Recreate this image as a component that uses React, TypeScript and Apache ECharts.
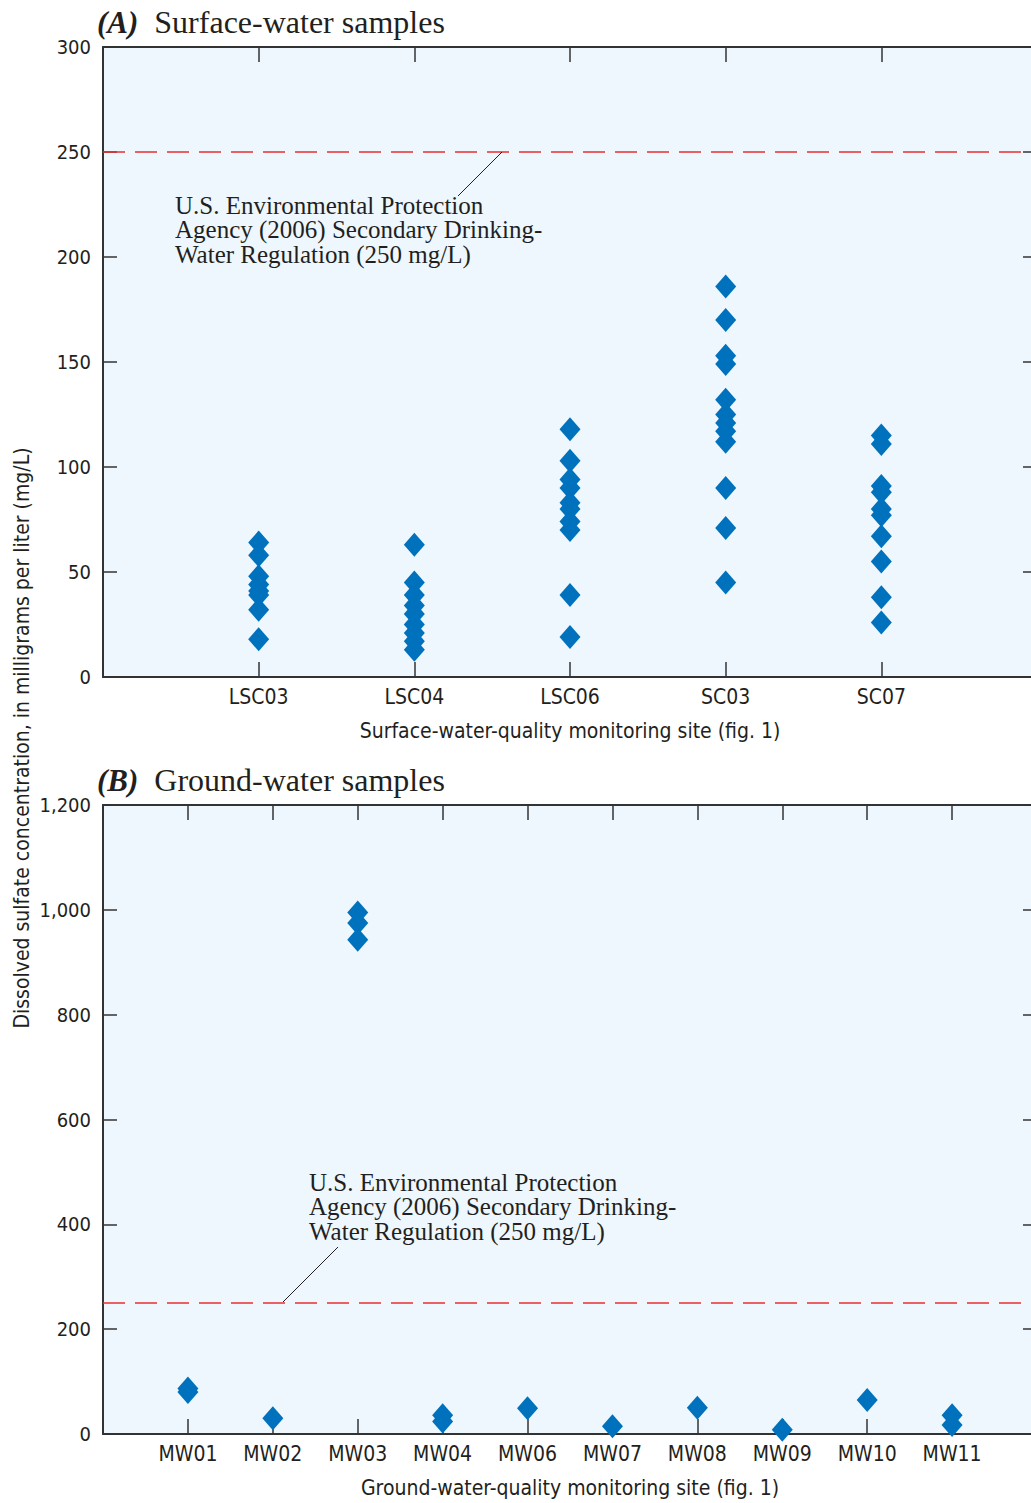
import React, { useEffect, useRef } from "react";
import * as echarts from "echarts";

const FONT_NARROW = "'Liberation Sans Narrow', 'DejaVu Sans Condensed', Roboto, sans-serif";
const FONT_SERIF = "'Liberation Serif', 'Times New Roman', serif";

// Panel A: surface-water samples (mg/L)
const surfaceSites = ["LSC03", "LSC04", "LSC06", "SC03", "SC07"];
const lsc03 = [64, 58, 48, 44, 41, 39, 32, 18];
const lsc04 = [63, 45, 39, 34, 30, 25, 21, 17, 13];
const lsc06 = [118, 103, 94, 90, 83, 80, 74, 70, 39, 19];
const sc03 = [186, 170, 153, 149, 132, 125, 121, 117, 112, 90, 71, 45];
const sc07 = [115, 111, 91, 88, 80, 77, 67, 55, 38, 26];
const surfaceValues = [lsc03, lsc04, lsc06, sc03, sc07];

// Panel B: ground-water samples (mg/L)
const groundSites = ["MW01", "MW02", "MW03", "MW04", "MW06", "MW07", "MW08", "MW09", "MW10", "MW11"];
const mw01 = [87, 80];
const mw02 = [30];
const mw03 = [995, 975, 943];
const mw04 = [36, 24];
const mw06 = [49];
const mw07 = [15];
const mw08 = [50];
const mw09 = [8];
const mw10 = [65];
const mw11 = [36, 17];
const groundValues = [mw01, mw02, mw03, mw04, mw06, mw07, mw08, mw09, mw10, mw11];

const standard = 250;
const noteLines = [
  "U.S. Environmental Protection",
  "Agency (2006) Secondary Drinking-",
  "Water Regulation (250 mg/L)",
];

const BLUE = "#0071BC";
const BG = "#EEF7FD";
const AXIS = "#333333";
const RED = "#E8312F";

function toPoints(groups: number[][]) {
  const out: number[][] = [];
  groups.forEach((g, i) => g.forEach((v) => out.push([i + 1, v])));
  return out;
}

function xAxes(gridIndex: number, names: string[], axisName: string) {
  const base = {
    type: "value" as const,
    gridIndex,
    min: 0,
    max: names.length + 1,
    interval: 1,
    splitLine: { show: false },
    axisLine: { show: true, onZero: false, lineStyle: { color: AXIS, width: 2 } },
    axisTick: { show: true, inside: true, length: 15, lineStyle: { color: AXIS, width: 1.5 } },
  };
  return [
    {
      ...base,
      position: "bottom",
      name: axisName,
      nameLocation: "middle",
      nameGap: 43,
      nameTextStyle: { fontFamily: FONT_NARROW, fontSize: 21, color: "#231F20" },
      axisLabel: {
        show: true,
        margin: 9,
        fontFamily: FONT_NARROW,
        fontSize: 21,
        color: "#231F20",
        formatter: (v: number) => names[v - 1] ?? "",
      },
    },
    { ...base, position: "top", axisLabel: { show: false } },
  ];
}

function yAxes(gridIndex: number, max: number, interval: number) {
  const base = {
    type: "value" as const,
    gridIndex,
    min: 0,
    max,
    interval,
    splitLine: { show: false },
    axisLine: { show: true, onZero: false, lineStyle: { color: AXIS, width: 2 } },
    axisTick: { show: true, inside: true, length: 14, lineStyle: { color: AXIS, width: 1.5 } },
  };
  return [
    {
      ...base,
      position: "left",
      axisLabel: {
        show: true,
        margin: 12,
        fontFamily: FONT_NARROW,
        fontSize: 20,
        color: "#231F20",
        formatter: (v: number) => v.toLocaleString("en-US"),
      },
    },
    { ...base, position: "right", axisLabel: { show: false } },
  ];
}

function scatter(xi: number, yi: number, groups: number[][]) {
  return {
    type: "scatter",
    xAxisIndex: xi,
    yAxisIndex: yi,
    symbol: "diamond",
    symbolSize: [21, 24],
    itemStyle: { color: BLUE, opacity: 1 },
    data: toPoints(groups),
    markLine: {
      silent: true,
      symbol: "none",
      label: { show: false },
      lineStyle: { color: RED, type: [22, 10], width: 1.5 },
      data: [{ yAxis: standard }],
      z: 1,
    },
    z: 3,
  };
}

function note(x: number, y: number) {
  return noteLines.map((t, i) => ({
    type: "text",
    x,
    y: y + i * 24.5,
    z: 10,
    style: {
      text: t,
      fontFamily: FONT_SERIF,
      fontSize: 25,
      fill: "#231F20",
      align: "left",
      verticalAlign: "middle",
      textAlign: "left",
      textVerticalAlign: "middle",
    },
  }));
}

function panelTitle(letter: string, text: string, y: number) {
  return {
    type: "text",
    x: 97,
    y,
    z: 10,
    style: {
      text: `{a|(${letter})}  ${text}`,
      fontFamily: FONT_SERIF,
      fontSize: 32,
      fill: "#231F20",
      verticalAlign: "middle",
      textVerticalAlign: "middle",
      rich: {
        a: { fontFamily: FONT_SERIF, fontSize: 31, fontStyle: "italic", fontWeight: "bold", fill: "#231F20" },
      },
    },
  };
}

export default function App() {
  const ref = useRef<HTMLDivElement>(null);
  useEffect(() => {
    if (!ref.current) return;
    const chart = echarts.init(ref.current, undefined, { renderer: "svg" });
    const option: any = {
      animation: false,
      backgroundColor: "#ffffff",
      grid: [
        { left: 103, top: 47, width: 934, height: 630, show: true, backgroundColor: BG, borderWidth: 0, outerBoundsMode: "none" },
        { left: 103, top: 805, width: 934, height: 629, show: true, backgroundColor: BG, borderWidth: 0, outerBoundsMode: "none" },
      ],
      xAxis: [
        ...xAxes(0, surfaceSites, "Surface-water-quality monitoring site (fig. 1)"),
        ...xAxes(1, groundSites, "Ground-water-quality monitoring site (fig. 1)"),
      ],
      yAxis: [...yAxes(0, 300, 50), ...yAxes(1, 1200, 200)],
      series: [scatter(0, 0, surfaceValues), scatter(2, 2, groundValues)],
      graphic: [
        panelTitle("A", "Surface-water samples", 22),
        panelTitle("B", "Ground-water samples", 780),
        ...note(175, 205),
        ...note(309, 1182),
        { type: "line", z: 10, shape: { x1: 458, y1: 196, x2: 502, y2: 152 }, style: { stroke: "#231F20", lineWidth: 1 } },
        { type: "line", z: 10, shape: { x1: 283, y1: 1302, x2: 338, y2: 1247 }, style: { stroke: "#231F20", lineWidth: 1 } },
        {
          type: "text",
          x: 22,
          y: 738,
          rotation: Math.PI / 2,
          z: 10,
          style: {
            text: "Dissolved sulfate concentration, in milligrams per liter (mg/L)",
            fontFamily: FONT_NARROW,
            fontSize: 21,
            fill: "#231F20",
            align: "center",
            verticalAlign: "middle",
            textAlign: "center",
            textVerticalAlign: "middle",
          },
        },
      ],
    };
    chart.setOption(option);
    return () => chart.dispose();
  }, []);
  return (
    <div
      ref={ref}
      style={{ position: "absolute", left: 0, top: 0, width: 1031, height: 1503, overflow: "hidden" }}
    />
  );
}
